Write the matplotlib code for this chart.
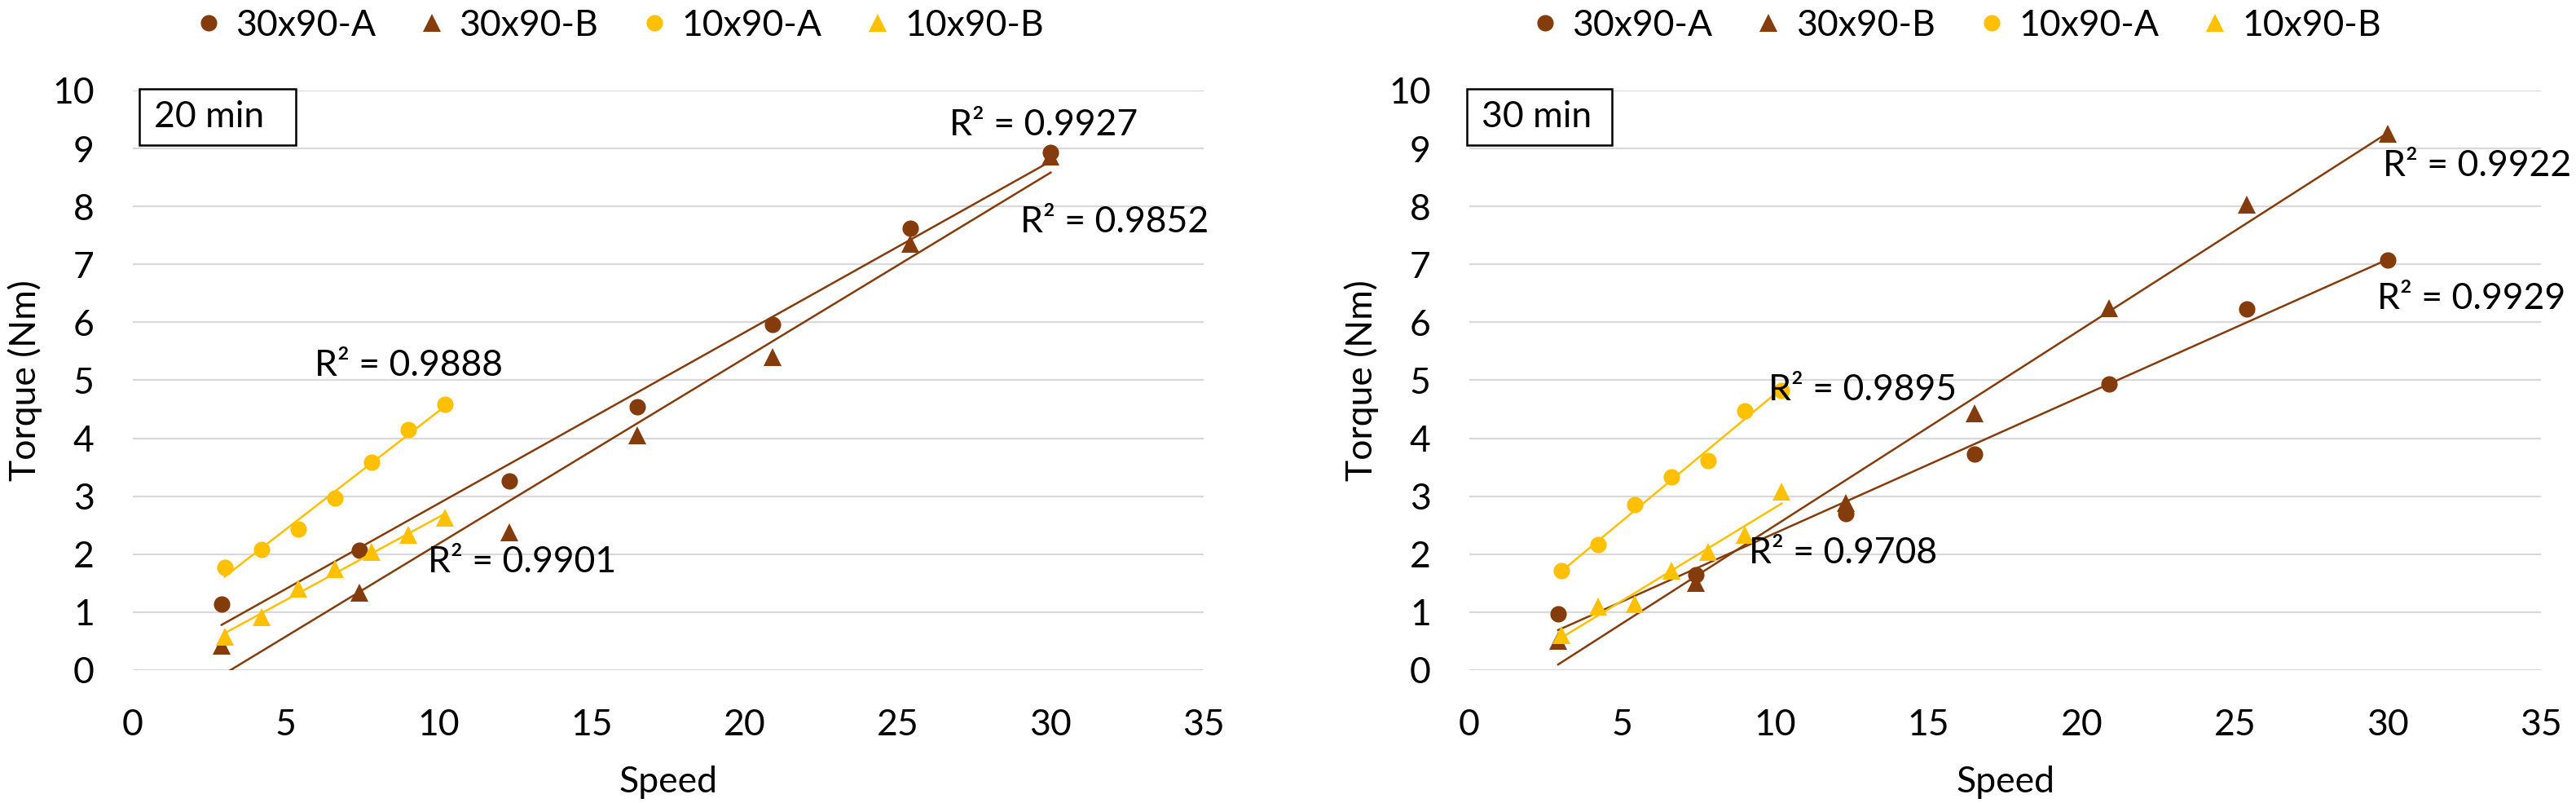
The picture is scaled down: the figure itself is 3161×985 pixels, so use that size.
import numpy as np
import matplotlib
matplotlib.use("Agg")
import matplotlib.pyplot as plt
from matplotlib.patches import Rectangle

plt.rcParams['font.family'] = ['Lato', 'DejaVu Sans']

# ---------------- data ----------------
series_names = ["30x90-A", "30x90-B", "10x90-A", "10x90-B"]
speed_30x90 = [2.9, 7.4, 12.3, 16.5, 20.9, 25.4, 30.0]
speed_10x90 = [3.0, 4.2, 5.4, 6.6, 7.8, 9.0, 10.2]

# 20 min panel
t20_30x90_A = [1.14, 2.07, 3.26, 4.54, 5.96, 7.63, 8.93]
t20_30x90_B = [0.42, 1.34, 2.38, 4.05, 5.40, 7.35, 8.86]
t20_10x90_A = [1.77, 2.08, 2.44, 2.97, 3.58, 4.15, 4.58]
t20_10x90_B = [0.58, 0.92, 1.41, 1.75, 2.04, 2.34, 2.63]

# 30 min panel
t30_30x90_A = [0.97, 1.64, 2.70, 3.73, 4.93, 6.23, 7.08]
t30_30x90_B = [0.51, 1.51, 2.88, 4.43, 6.25, 8.03, 9.26]
t30_10x90_A = [1.71, 2.16, 2.85, 3.33, 3.61, 4.47, 4.83]
t30_10x90_B = [0.60, 1.10, 1.14, 1.71, 2.04, 2.34, 3.08]

panel_titles = ["20 min", "30 min"]
r2_20 = ["0.9927", "0.9852", "0.9888", "0.9901"]
r2_30 = ["0.9929", "0.9922", "0.9895", "0.9708"]

x_ticks = [0, 5, 10, 15, 20, 25, 30, 35]
y_ticks = [0, 1, 2, 3, 4, 5, 6, 7, 8, 9, 10]

BROWN = "#843C0C"
YELLOW = "#FFC000"
GRID = "#D9D9D9"
FS = 32

W, H = 3161, 985
fig = plt.figure(figsize=(W / 100, H / 100), dpi=100)

ax_h = 711 / H
ax_b = 1 - 822 / H
ax1 = fig.add_axes([163 / W, ax_b, 1314 / W, ax_h])
ax2 = fig.add_axes([1803 / W, ax_b, 1315 / W, ax_h])

panels = [
    (ax1, [t20_30x90_A, t20_30x90_B, t20_10x90_A, t20_10x90_B], r2_20,
     [(26.7, 9.40), (29.0, 7.73), (5.93, 5.26), (9.65, 1.86)],
     (0.006, 0.906, 0.146, 0.097), 0.0198, 0.241),
    (ax2, [t30_30x90_A, t30_30x90_B, t30_10x90_A, t30_10x90_B], r2_30,
     [(29.64, 6.41), (29.83, 8.70), (9.77, 4.83), (9.12, 2.02)],
     (-0.002, 0.906, 0.135, 0.097), 0.0114, 0.760),
]

colors = [BROWN, BROWN, YELLOW, YELLOW]
markers = ["o", "^", "o", "^"]
msizes = [14.5, 16.5, 14.5, 16.5]

for idx, (ax, ys, r2s, r2pos, box, txt_x, leg_x) in enumerate(panels):
    xs_all = [speed_30x90, speed_30x90, speed_10x90, speed_10x90]
    handles = []
    for k in range(4):
        x = np.array(xs_all[k])
        y = np.array(ys[k])
        h, = ax.plot(x, y, linestyle="none", marker=markers[k], markersize=msizes[k],
                     color=colors[k], markeredgewidth=0, label=series_names[k],
                     zorder=3 + k)
        handles.append(h)
        p = np.polyfit(x, y, 1)
        xl = np.array([x.min(), x.max()])
        ax.plot(xl, np.polyval(p, xl), color=colors[k], linewidth=1.8,
                zorder=3 + k)
    for k in range(4):
        ax.text(r2pos[k][0], r2pos[k][1], "R² = " + r2s[k], fontsize=FS,
                ha="left", va="center", color="black", zorder=10)

    ax.set_xlim(0, 35)
    ax.set_ylim(0, 10)
    ax.set_xticks(x_ticks)
    ax.set_yticks(y_ticks)
    ax.tick_params(axis="both", length=0, labelsize=FS, colors="black")
    ax.tick_params(axis="y", pad=34)
    ax.tick_params(axis="x", pad=34)
    for s in ax.spines.values():
        s.set_visible(False)
    ax.grid(axis="y", color=GRID, linewidth=1.6, zorder=0)
    ax.set_axisbelow(True)

    ax.set_xlabel("Speed", fontsize=FS, va="center")
    ax.xaxis.set_label_coords(0.5, -0.194)
    ax.set_ylabel("Torque (Nm)", fontsize=FS, va="center")
    ax.yaxis.set_label_coords(-0.1005, 0.5)

    rect = Rectangle((box[0], box[1]), box[2], box[3], transform=ax.transAxes,
                     fill=True, facecolor="white", edgecolor="black",
                     linewidth=1.8, clip_on=False, zorder=11)
    ax.add_patch(rect)
    ax.text(txt_x, box[1] + box[3] / 2, panel_titles[idx], transform=ax.transAxes,
            fontsize=FS, ha="left", va="center", zorder=12)

    fig.legend(handles=handles, labels=series_names, loc="center",
               bbox_to_anchor=(leg_x, 0.968), ncol=4, frameon=False,
               fontsize=FS, handlelength=0.6, handletextpad=0.45,
               columnspacing=1.25, borderaxespad=0, markerscale=1.0)

fig.savefig("out.png", dpi=100)
